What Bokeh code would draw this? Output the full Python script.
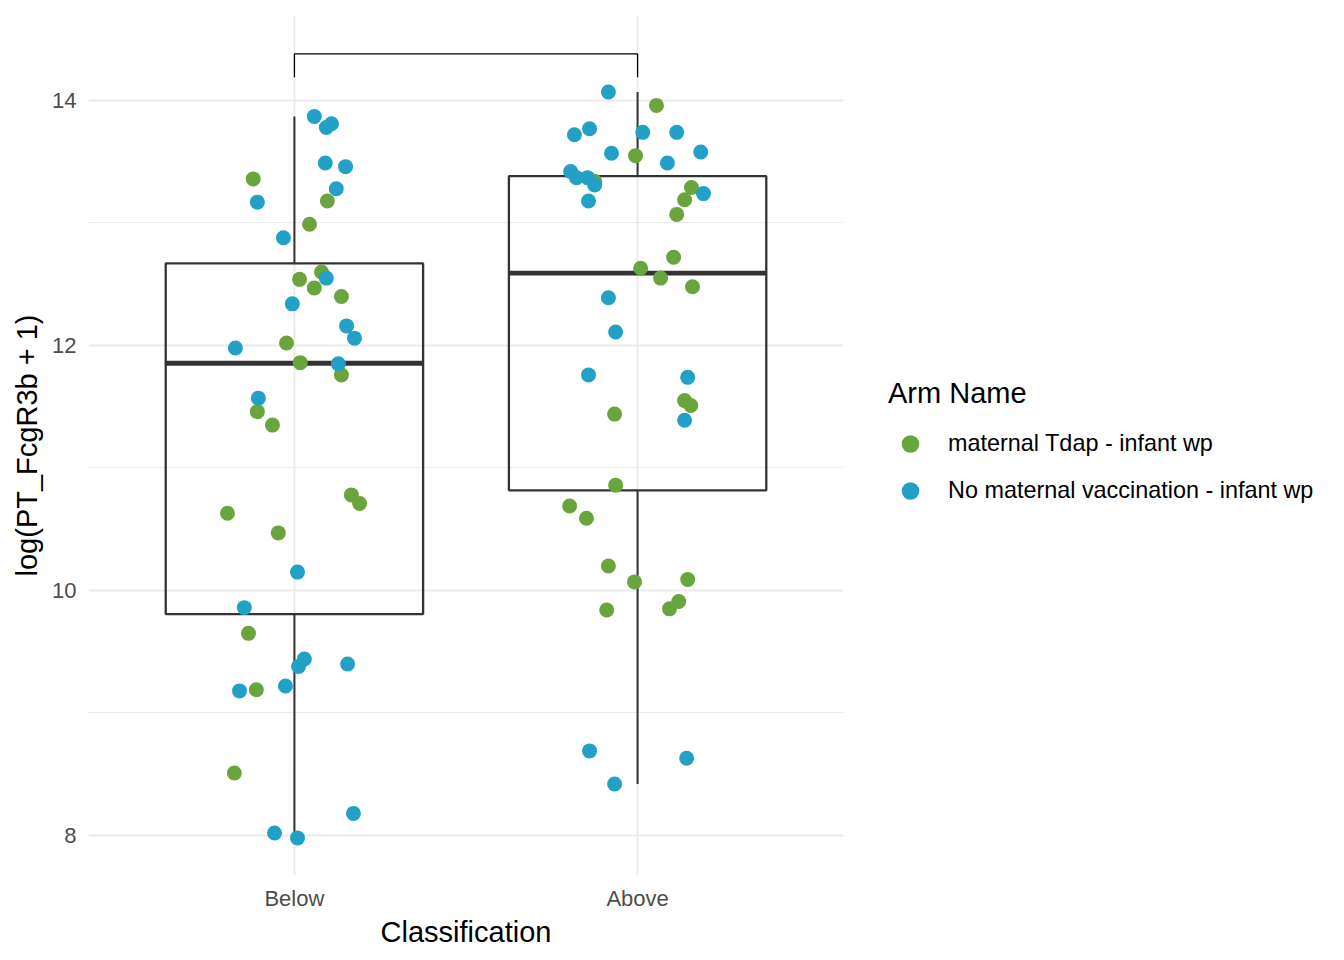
import numpy as np
from bokeh.plotting import figure
from bokeh.models import Range1d, FixedTicker, Legend, LegendItem, ColumnDataSource
from bokeh.embed import file_html
from bokeh.resources import INLINE

# ---------------- data ----------------
categories = ["Below", "Above"]
series_names = ["maternal Tdap - infant wp", "No maternal vaccination - infant wp"]
series_colors = ["#6aa43c", "#22a0c6"]

# maternal Tdap - infant wp (green)
tdap_class = (["Below"] * 19) + (["Above"] * 22)
tdap_jitter = [-0.120, 0.096, 0.044, 0.079, 0.015, 0.058, 0.137, -0.023, 0.017, 0.137,
               -0.108, -0.064, 0.166, 0.190, -0.195, -0.047, -0.134, -0.111, -0.175,
               0.055, -0.006, 0.157, 0.137, 0.114, 0.105, 0.009, 0.067, 0.160, 0.137,
               0.155, -0.067, -0.064, -0.198, -0.149, -0.085, -0.009, 0.146, 0.120, 0.093,
               -0.090, -0.125]
tdap_value = [13.36, 13.18, 12.99, 12.60, 12.54, 12.47, 12.40, 12.02, 11.86, 11.76,
              11.46, 11.35, 10.78, 10.71, 10.63, 10.47, 9.65, 9.19, 8.51,
              13.96, 13.55, 13.29, 13.19, 13.07, 12.72, 12.63, 12.55, 12.48, 11.55,
              11.51, 11.44, 10.86, 10.69, 10.59, 10.20, 10.07, 10.09, 9.91, 9.85,
              9.84, 13.34]

# No maternal vaccination - infant wp (blue)
novacc_class = (["Below"] * 25) + (["Above"] * 22)
novacc_jitter = [0.058, 0.108, 0.093, 0.090, 0.149, 0.122, -0.108, -0.032, 0.093, -0.006,
                 0.152, 0.175, -0.172, 0.128, -0.105, 0.009, -0.146, 0.029, 0.012, 0.155,
                 -0.026, -0.160, 0.172, -0.058, 0.009,
                 -0.085, -0.140, -0.184, 0.015, 0.114, -0.076, 0.087, 0.184, -0.195, -0.178,
                 -0.146, -0.125, -0.143, 0.192, -0.085, -0.064, -0.143, 0.146, 0.137, -0.140,
                 0.143, -0.067]
novacc_value = [13.87, 13.81, 13.78, 13.49, 13.46, 13.28, 13.17, 12.88, 12.55, 12.34,
                12.16, 12.06, 11.98, 11.85, 11.57, 10.15, 9.86, 9.44, 9.38, 9.40,
                9.22, 9.18, 8.18, 8.02, 7.98,
                14.07, 13.77, 13.72, 13.74, 13.74, 13.57, 13.49, 13.58, 13.42, 13.37,
                13.37, 13.31, 13.18, 13.24, 12.39, 12.11, 11.76, 11.74, 11.39, 8.69,
                8.63, 8.42]

# significance bracket
bracket_top = 14.38
bracket_tip = 14.19

y_ticks = [8, 10, 12, 14]
y_minor = [9, 11, 13]

# ---------------- helpers ----------------
pos = {c: i + 1 for i, c in enumerate(categories)}


def xs(classes, jit):
    return [pos[c] + j for c, j in zip(classes, jit)]


# box statistics computed from the points
all_class = tdap_class + novacc_class
all_value = tdap_value + novacc_value
q1s, meds, q3s, los, his, centers = [], [], [], [], [], []
for c in categories:
    v = np.array([val for cl, val in zip(all_class, all_value) if cl == c])
    q1, med, q3 = np.percentile(v, [25, 50, 75])
    iqr = q3 - q1
    lo = v[v >= q1 - 1.5 * iqr].min()
    hi = v[v <= q3 + 1.5 * iqr].max()
    q1s.append(q1); meds.append(med); q3s.append(q3); los.append(lo); his.append(hi)
    centers.append(pos[c])

FONT = "Liberation Sans"
BOX_W = 0.75
LINE = "#333333"

p = figure(frame_width=755, frame_height=860, output_backend="svg", toolbar_location=None,
           x_range=Range1d(0.4, 2.6), y_range=Range1d(7.673, 14.694),
           min_border_left=88, min_border_right=480, min_border_top=15,
           min_border_bottom=80)
p.outline_line_color = None
p.background_fill_color = "white"

# grids
p.xaxis.ticker = FixedTicker(ticks=[pos[c] for c in categories])
p.xaxis.major_label_overrides = {pos[c]: c for c in categories}
p.yaxis.ticker = FixedTicker(ticks=y_ticks, minor_ticks=y_minor)
p.xgrid.grid_line_color = "#ebebeb"
p.xgrid.grid_line_width = 2
p.ygrid.grid_line_color = "#ebebeb"
p.ygrid.grid_line_width = 2
p.ygrid.minor_grid_line_color = "#ebebeb"
p.ygrid.minor_grid_line_width = 1

for ax in (p.xaxis, p.yaxis):
    ax.axis_line_color = None
    ax.major_tick_line_color = None
    ax.minor_tick_line_color = None
    ax.major_tick_out = 0
    ax.major_tick_in = 0
    ax.minor_tick_out = 0
    ax.major_label_text_font = FONT
    ax.major_label_text_font_size = "22px"
    ax.major_label_text_color = "#4d4d4d"
    ax.axis_label_text_font = FONT
    ax.axis_label_text_font_size = "29px"
    ax.axis_label_text_font_style = "normal"
    ax.axis_label_text_color = "black"

p.xaxis.axis_label = "Classification"
p.yaxis.axis_label = "log(PT_FcgR3b + 1)"
p.xaxis.major_label_standoff = 10
p.xaxis.axis_label_standoff = 2
p.yaxis.major_label_standoff = 12
p.yaxis.axis_label_standoff = 6

# boxplots
box_src = ColumnDataSource(dict(x=centers, q1=q1s, med=meds, q3=q3s, lo=los, hi=his,
                                left=[c - BOX_W / 2 for c in centers],
                                right=[c + BOX_W / 2 for c in centers]))
p.segment(x0="x", y0="q3", x1="x", y1="hi", source=box_src, line_color=LINE, line_width=2)
p.segment(x0="x", y0="q1", x1="x", y1="lo", source=box_src, line_color=LINE, line_width=2)
p.quad(left="left", right="right", bottom="q1", top="q3", source=box_src,
       fill_color=None, line_color=LINE, line_width=2.3)
p.segment(x0="left", y0="med", x1="right", y1="med", source=box_src,
          line_color=LINE, line_width=4.8)

# significance bracket
x1, x2 = pos[categories[0]], pos[categories[1]]
p.line(x=[x1, x1, x2, x2], y=[bracket_tip, bracket_top, bracket_top, bracket_tip],
       line_color="black", line_width=1.3)

# points
r_tdap = p.scatter(x=xs(tdap_class, tdap_jitter), y=tdap_value, size=15,
                   fill_color=series_colors[0], line_color=None)
r_nov = p.scatter(x=xs(novacc_class, novacc_jitter), y=novacc_value, size=15,
                  fill_color=series_colors[1], line_color=None)

legend = Legend(items=[LegendItem(label=series_names[0], renderers=[r_tdap]),
                       LegendItem(label=series_names[1], renderers=[r_nov])],
                location=(45, 361), title="Arm Name",
                title_text_font=FONT, title_text_font_size="29px",
                title_text_font_style="normal", title_text_color="black",
                title_standoff=10,
                label_text_font=FONT, label_text_font_size="23.4px", label_text_color="black",
                glyph_width=44, glyph_height=47, label_height=47, label_standoff=16,
                spacing=0, padding=0, margin=0,
                background_fill_alpha=0, border_line_color=None)
p.add_layout(legend, "right")

open("out.html", "w").write(file_html(p, INLINE))
